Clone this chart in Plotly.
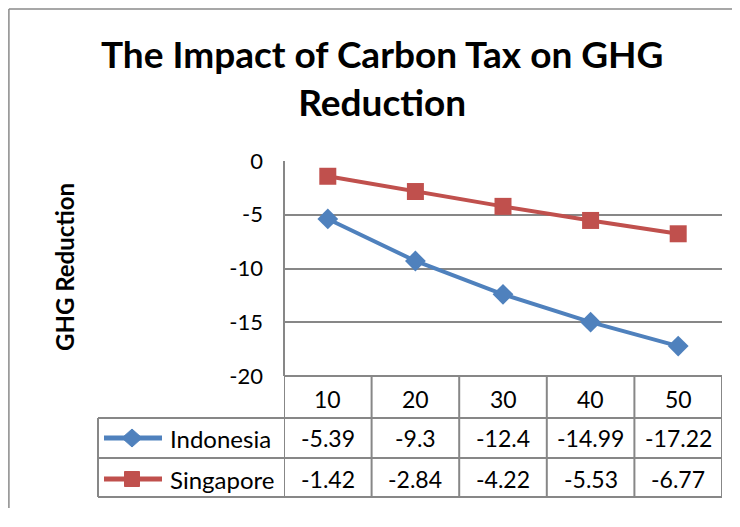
import plotly.graph_objects as go

categories = [10, 20, 30, 40, 50]
indonesia = [-5.39, -9.3, -12.4, -14.99, -17.22]
singapore = [-1.42, -2.84, -4.22, -5.53, -6.77]
y_ticks = [0, -5, -10, -15, -20]
series_names = ["Indonesia", "Singapore"]
title_text = "The Impact of Carbon Tax on GHG<br>Reduction"
y_title = "GHG Reduction"

BLUE = "#4F81BD"
RED = "#C0504D"
GRID = "#878787"
FONT = "Lato"

OFF = 8  # page body margin
W, H = 740 - 2 * OFF, 500
# desired plot area in screen pixels: x 284-722, y 161-376
L = 284 - OFF
R = W - (722 - OFF)
T = 161 - OFF
B = H - (376 - OFF)
PW = W - L - R
PH = H - T - B


def px_x(sx):
    return (sx - OFF - L) / PW


def px_y(sy):
    return (H - B - (sy - OFF)) / PH


fig = go.Figure()
fig.add_trace(go.Scatter(x=categories, y=indonesia, name=series_names[0], mode="lines+markers",
                         line=dict(color=BLUE, width=4),
                         marker=dict(symbol="diamond", size=16, color=BLUE)))
fig.add_trace(go.Scatter(x=categories, y=singapore, name=series_names[1], mode="lines+markers",
                         line=dict(color=RED, width=4),
                         marker=dict(symbol="square", size=17, color=RED)))

shapes = []
# outer chart border (top and left edges visible)
shapes.append(dict(type="line", xref="paper", yref="paper",
                   x0=px_x(8.9), x1=px_x(760), y0=px_y(8.9), y1=px_y(8.9),
                   line=dict(color="#8a8a8a", width=1.5), layer="below"))
shapes.append(dict(type="line", xref="paper", yref="paper",
                   x0=px_x(8.9), x1=px_x(8.9), y0=px_y(8.9), y1=px_y(600),
                   line=dict(color="#8a8a8a", width=1.5), layer="below"))

# table geometry
row_lines = [376, 418, 458, 497]
table_left = 98
col_edges = [c - 5 for c in categories] + [categories[-1] + 5]
for i, ry in enumerate(row_lines):
    x0 = px_x(table_left) if i >= 1 else 0
    shapes.append(dict(type="line", xref="paper", yref="paper",
                       x0=x0, x1=1, y0=px_y(ry), y1=px_y(ry),
                       line=dict(color=GRID, width=2)))
for ce in col_edges:
    shapes.append(dict(type="line", xref="x", yref="paper",
                       x0=ce, x1=ce, y0=px_y(row_lines[-1]), y1=px_y(row_lines[0]),
                       line=dict(color=GRID, width=2)))
shapes.append(dict(type="line", xref="paper", yref="paper",
                   x0=px_x(table_left), x1=px_x(table_left),
                   y0=px_y(row_lines[-1]), y1=px_y(row_lines[1]),
                   line=dict(color=GRID, width=2)))
# left axis line
shapes.append(dict(type="line", xref="paper", yref="paper", x0=0, x1=0, y0=0, y1=1,
                   line=dict(color=GRID, width=2)))

# legend icons
icon_y = [438, 479]
colors = [BLUE, RED]
for k, iy in enumerate(icon_y):
    shapes.append(dict(type="line", xref="paper", yref="paper",
                       x0=px_x(104), x1=px_x(162), y0=px_y(iy), y1=px_y(iy),
                       line=dict(color=colors[k], width=5)))
diamond = "M 0 -9 L 10 0 L 0 9 L -10 0 Z"
square = "M -7.5 -7.5 L 7.5 -7.5 L 7.5 7.5 L -7.5 7.5 Z"
for k, iy in enumerate(icon_y):
    shapes.append(dict(type="path", xref="paper", yref="paper",
                       xsizemode="pixel", ysizemode="pixel",
                       xanchor=px_x(132), yanchor=px_y(iy),
                       path=diamond if k == 0 else square,
                       fillcolor=colors[k], line=dict(color=colors[k], width=1)))

annotations = []
cell_font = dict(family=FONT, size=23, color="#000000")
header_y = px_y(399)
for c in categories:
    annotations.append(dict(x=c, y=header_y, xref="x", yref="paper", text=str(c),
                            showarrow=False, font=cell_font, xanchor="center", yanchor="middle"))
for vals, iy in zip([indonesia, singapore], icon_y):
    for c, v in zip(categories, vals):
        annotations.append(dict(x=c, y=px_y(iy), xref="x", yref="paper", text=f"{v:g}",
                                showarrow=False, font=cell_font, xanchor="center", yanchor="middle"))
for name, iy in zip(series_names, icon_y):
    annotations.append(dict(x=px_x(168), y=px_y(iy), xref="paper", yref="paper", text=name,
                            showarrow=False, font=dict(family=FONT, size=24, color="#000000"),
                            xanchor="left", yanchor="middle"))
# title
annotations.append(dict(x=px_x(382), y=px_y(78), xref="paper", yref="paper", text=title_text,
                        showarrow=False, xanchor="center", yanchor="middle",
                        font=dict(family=FONT, size=37, color="#000000", weight="bold")))
# y title
annotations.append(dict(x=px_x(64), y=px_y(267), xref="paper", yref="paper", text=y_title,
                        showarrow=False, xanchor="center", yanchor="middle", textangle=-90,
                        font=dict(family=FONT, size=24, color="#000000", weight="bold")))

fig.update_layout(
    width=W, height=H,
    margin=dict(l=L, r=R, t=T, b=B),
    paper_bgcolor="white", plot_bgcolor="white",
    showlegend=False,
    shapes=shapes, annotations=annotations,
    xaxis=dict(range=[5, 55], visible=False, fixedrange=True),
    yaxis=dict(range=[-20, 0], tickvals=y_ticks, ticktext=[str(t) for t in y_ticks],
               showgrid=True, gridcolor=GRID, gridwidth=1.5, zeroline=False,
               showline=False, ticks="", ticklabelstandoff=20,
               tickfont=dict(family=FONT, size=22, color="#000000")),
)

fig.write_html("out.html")
